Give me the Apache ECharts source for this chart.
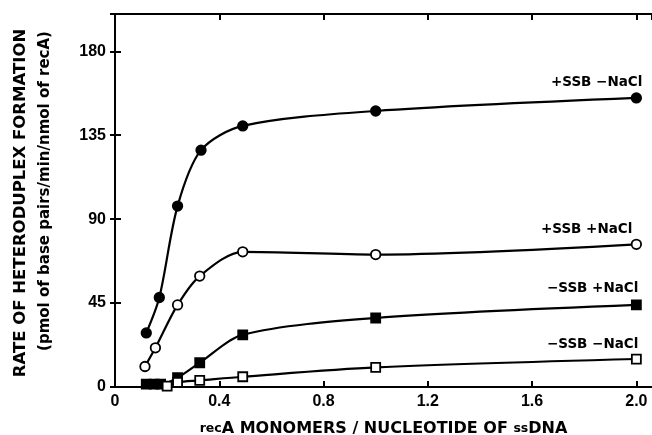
<!DOCTYPE html>
<html>
<head>
<meta charset="utf-8">
<script src="https://cdn.jsdelivr.net/npm/echarts@6/dist/echarts.min.js"></script>
<style>
html,body{margin:0;padding:0;background:#fff;}
#c{width:652px;height:435px;}
</style>
</head>
<body>
<div id="c"></div>
<script>
// Data
const xTicks = [0, 0.4, 0.8, 1.2, 1.6, 2.0];
const yTicks = [0, 45, 90, 135, 180];

const ssbPlusNaclMinusX = [0.12, 0.17, 0.24, 0.33, 0.49, 1.0, 2.0];
const ssbPlusNaclMinusY = [29, 48, 97, 127, 140, 148, 155];

const ssbPlusNaclPlusX = [0.115, 0.155, 0.24, 0.325, 0.49, 1.0, 2.0];
const ssbPlusNaclPlusY = [11, 21, 44, 59.5, 72.5, 71, 76.5];

const ssbMinusNaclPlusX = [0.12, 0.15, 0.175, 0.24, 0.325, 0.49, 1.0, 2.0];
const ssbMinusNaclPlusY = [1.5, 1.5, 1.5, 5, 13, 28, 37, 44];

const ssbMinusNaclMinusX = [0.2, 0.24, 0.325, 0.49, 1.0, 2.0];
const ssbMinusNaclMinusY = [0.5, 2.5, 3.5, 5.5, 10.5, 15];

const seriesNames = ['+SSB \u2212NaCl', '+SSB +NaCl', '\u2212SSB +NaCl', '\u2212SSB \u2212NaCl'];

const FONT = 'Liberation Sans, Arial, sans-serif';
const WIDE = 'DejaVu Sans, sans-serif';

function pairs(xs, ys, labelOffset) {
  return xs.map((x, i) => {
    const item = { value: [x, ys[i]] };
    if (i === xs.length - 1) {
      item.label = {
        show: true, position: 'top', align: 'right',
        offset: labelOffset,
        formatter: '{a}', color: '#000',
        fontFamily: WIDE, fontWeight: 'bold', fontSize: 13.5
      };
    }
    return item;
  });
}

function mk(name, xs, ys, symbol, filled, off) {
  return {
    name: name, type: 'line', smooth: 0.3,
    data: pairs(xs, ys, off),
    symbol: symbol, symbolSize: symbol === 'rect' ? 9 : 9.5,
    lineStyle: { color: '#000', width: 2.2 },
    itemStyle: { color: filled ? '#000' : '#fff', borderColor: '#000', borderWidth: 1.8 },
    label: { show: false },
    z: 3
  };
}

const chart = echarts.init(document.getElementById('c'), null, { renderer: 'canvas' });

const axisLabelStyle = { color: '#000', fontFamily: FONT, fontWeight: 'bold', fontSize: 16 };

chart.setOption({
  animation: false,
  backgroundColor: '#fff',
  grid: { left: 115, right: 0, top: 14, bottom: 48, containLabel: false, outerBoundsMode: 'none' },
  xAxis: [{
    type: 'value', min: 0, max: 2.06, interval: 0.4,
    axisLine: { show: true, lineStyle: { color: '#000', width: 2 } },
    axisTick: { show: true, inside: true, length: 6, lineStyle: { color: '#000', width: 2 } },
    axisLabel: Object.assign({ margin: 7, showMaxLabel: false,
      formatter: v => (xTicks.indexOf(+v.toFixed(2)) >= 0 ? (v === 0 ? '0' : v.toFixed(1)) : '') }, axisLabelStyle),
    splitLine: { show: false },
    name: '{s|rec}{b|A MONOMERS / NUCLEOTIDE OF }{s|ss}{b|DNA}',
    nameLocation: 'middle', nameGap: 34,
    nameTextStyle: { rich: {
      b: { fontFamily: WIDE, fontWeight: 'bold', fontSize: 16, color: '#000' },
      s: { fontFamily: WIDE, fontWeight: 'bold', fontSize: 12.5, color: '#000' }
    } }
  }, {
    type: 'value', position: 'top', min: 0, max: 2.06, interval: 0.4,
    axisLine: { show: true, onZero: false, lineStyle: { color: '#000', width: 2 } },
    axisTick: { show: true, inside: true, length: 6, lineStyle: { color: '#000', width: 2 } },
    axisLabel: { show: false }, splitLine: { show: false }
  }],
  yAxis: [{
    type: 'value', min: 0, max: 200, interval: 45,
    axisLine: { show: true, lineStyle: { color: '#000', width: 2 } },
    axisTick: { show: true, inside: true, length: 6, lineStyle: { color: '#000', width: 2 } },
    axisLabel: Object.assign({ margin: 9, showMaxLabel: false,
      formatter: v => (yTicks.indexOf(v) >= 0 ? String(v) : '') }, axisLabelStyle),
    splitLine: { show: false }
  }, {
    type: 'value', position: 'right', min: 0, max: 200, interval: 45,
    axisLine: { show: false },
    axisTick: { show: true, inside: true, length: 5, lineStyle: { color: '#000', width: 2 } },
    axisLabel: { show: false }, splitLine: { show: false }
  }],
  graphic: [{
    type: 'text', x: 21, y: 203, rotation: Math.PI / 2,
    style: { text: 'RATE OF HETERODUPLEX FORMATION', fill: '#000',
      font: 'bold 16.5px ' + WIDE, textAlign: 'center', textVerticalAlign: 'middle' }
  }, {
    type: 'text', x: 45, y: 191, rotation: Math.PI / 2,
    style: { text: '(pmol of base pairs/min/nmol of recA)', fill: '#000',
      font: 'bold 15px ' + WIDE, textAlign: 'center', textVerticalAlign: 'middle' }
  }],
  series: [
    mk(seriesNames[0], ssbPlusNaclMinusX, ssbPlusNaclMinusY, 'circle', true, [6, 2]),
    mk(seriesNames[1], ssbPlusNaclPlusX, ssbPlusNaclPlusY, 'circle', false, [-4, 3]),
    mk(seriesNames[2], ssbMinusNaclPlusX, ssbMinusNaclPlusY, 'rect', true, [2, 1]),
    mk(seriesNames[3], ssbMinusNaclMinusX, ssbMinusNaclMinusY, 'rect', false, [2, 3])
  ]
});
</script>
</body>
</html>
